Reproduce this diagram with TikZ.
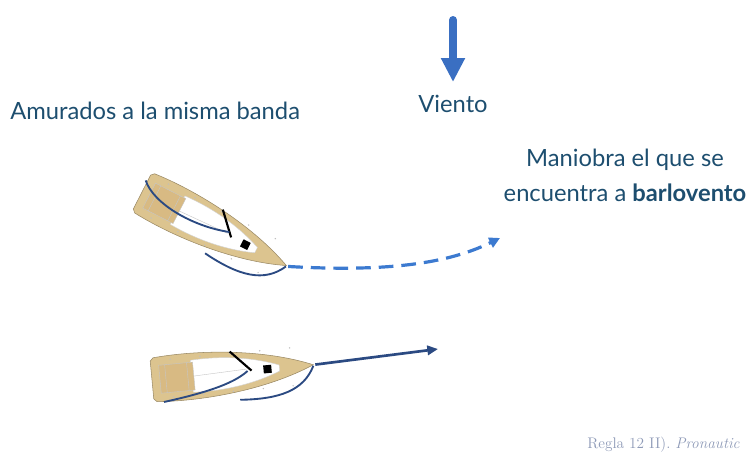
\documentclass[tikz,border=0pt]{standalone}
\usepackage{fontspec}
\newfontfamily\latofont{Lato}
\usetikzlibrary{arrows.meta}
\definecolor{textblue}{HTML}{1D4E6F}
\definecolor{windblue}{HTML}{3A6FC2}
\definecolor{pathblue}{HTML}{3C7AD0}
\definecolor{sailblue}{HTML}{2B4A82}
\definecolor{hulltan}{HTML}{DCC48F}
\definecolor{sourcegrey}{HTML}{8E9AB7}
% one boat, stern at origin, bow at (162,0)
\newcommand{\sailboat}{%
	\path[hull] (0,-19) -- (3,-22) .. controls (50,-26) and (115,-20) .. (162,0)
		.. controls (115,20) and (50,26) .. (3,22) -- (0,19) -- cycle;
	\path[fill=white, draw=gray!35, line width=0.3pt] (40,-16) .. controls (75,-18) and (105,-12) .. (128,-3) -- (128,3)
		.. controls (105,12) and (75,18) .. (40,16) -- cycle;
	\path[fill=hulltan!85!brown, draw=gray!45, line width=0.3pt] (8,-14) rectangle (42,14);
	\draw[gray!45, line width=0.3pt] (14,-14) -- (14,14) (36,-14) -- (36,14) (42,0) -- (95,-2);
	\foreach \px in {20,50,80,110,140}
		\fill[gray!50] (\px,-19) circle (0.8) (\px,19) circle (0.8);
	\fill[black] (112,-4) rectangle (120,4);
	\draw[black, line width=1.6pt] (80,-21) -- (100,0);
}
\begin{document}
\begin{tikzpicture}[x=0.75pt,y=-0.75pt]
	\tikzstyle{every node}=[inner sep=0pt, text=textblue, font=\latofont\fontsize{17.8}{26}\selectfont]
	\tikzstyle{hull}=[fill=hulltan, draw=hulltan!70!black, line width=0.4pt]
	\tikzstyle{sail}=[sailblue, line width=1.4pt]
	\useasboundingbox (0,0) rectangle (749,455);
	
	% Wind
	\coordinate (windtop) at (453,20);
	\coordinate (windtip) at (453,82);
	\draw[windblue, line width=6pt, line cap=round, -{Triangle[length=18pt,width=17pt]}] (windtop) -- (windtip);
	\node[anchor=base] (windlabel) at (453,112) {Viento};
	
	% Labels
	\node[anchor=base west] (tacklabel) at (10,119) {Amurados a la misma banda};
	\node[align=center, anchor=base] (giveway) at (625,201) {Maniobra el que se\\encuentra a \textbf{barlovento}};
	
	% Windward boat
	\begin{scope}[shift={(142,192)}, rotate=-27]
		\sailboat
		\draw[sail] (-2,-12) .. controls (15,5) and (60,8) .. (96,-4);
		\draw[sail] (84,26) .. controls (125,31) and (150,25) .. (162,1);
		\coordinate (topbow) at (164,0);
	\end{scope}
	
	% Leeward boat
	\begin{scope}[shift={(152,380)}, rotate=5.4]
		\sailboat
		\draw[sail] (10,23) .. controls (50,18) and (80,12) .. (96,0);
		\draw[sail] (86,28) .. controls (125,31) and (150,25) .. (162,1);
		\coordinate (lowbow) at (164,0);
	\end{scope}
	
	% Courses
	\coordinate (dashend) at (500,238);
	\coordinate (lowend) at (438,349);
	\draw[pathblue, line width=2.4pt, dash pattern=on 11pt off 6pt, -{Triangle[length=8pt,width=8pt]}]
		(topbow) .. controls (400,273) and (455,260) .. (dashend);
	\draw[sailblue, line width=2pt, -{Triangle[length=8pt,width=7pt]}] (lowbow) -- (lowend);
	
	% Source
	\node[anchor=base west, text=sourcegrey, font=\rmfamily\fontsize{11.5}{14}\selectfont] (source) at (587,448) {Regla 12 II). \textit{Pronautic}};
\end{tikzpicture}
\end{document}
